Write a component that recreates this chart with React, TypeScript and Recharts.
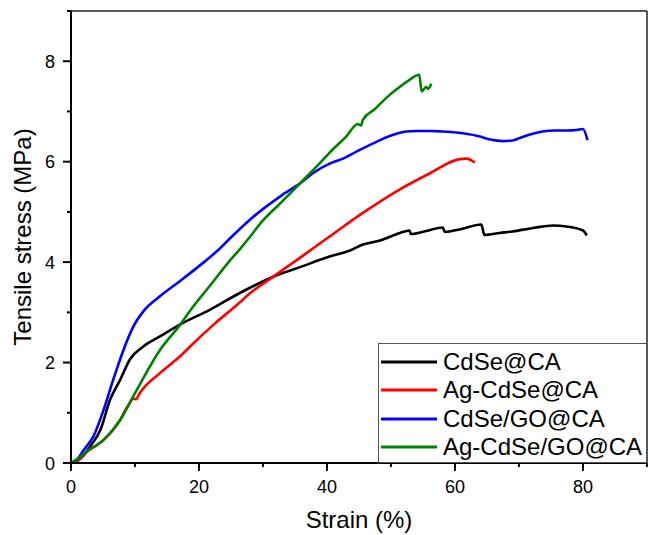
import React from 'react';
import { LineChart, Line, XAxis, YAxis, Legend, ReferenceLine, Label } from 'recharts';

type P = { x: number; y: number };
const pts = (a: number[][]): P[] => a.map(([x, y]) => ({ x, y }));

const cdseCA = pts([
  [0, 0], [0.7, 0.02], [2, 0.15], [3, 0.33], [4.6, 0.66], [6.1, 1.26], [7.7, 1.66], [9.2, 2.06],
  [11.3, 2.32], [13.9, 2.52], [17.5, 2.79], [21.7, 3.05], [26.3, 3.38], [27.5, 3.46], [31.6, 3.71],
  [35.8, 3.9], [40.4, 4.11], [43.6, 4.23], [45.6, 4.35], [48.3, 4.43], [51.4, 4.58], [52.9, 4.63],
  [53.1, 4.56], [55.5, 4.62], [58.1, 4.69], [58.4, 4.6], [61, 4.66], [64.1, 4.75], [64.6, 4.54],
  [67, 4.58], [69, 4.61], [72.2, 4.68], [75.3, 4.73], [77.4, 4.71], [80, 4.63], [80.6, 4.53],
]);

const agCdseCA = pts([
  [0, 0], [1, 0.05], [2.5, 0.23], [5.1, 0.46], [7.7, 0.86], [8.7, 1.1], [9.8, 1.28], [10.2, 1.27],
  [10.6, 1.36], [13.9, 1.79], [17, 2.12], [19.1, 2.38], [22.5, 2.78], [26.4, 3.2], [27.5, 3.33],
  [31.6, 3.71], [36.8, 4.18], [40.4, 4.51], [45.6, 4.98], [51, 5.42], [56.1, 5.77], [60.7, 6.05],
  [61.8, 6.06], [63.1, 5.98],
]);

const cdseGoCA = pts([
  [0, 0], [1, 0.08], [2, 0.26], [3.5, 0.53], [5.1, 1.06], [6.6, 1.66], [8.2, 2.25], [9.75, 2.72],
  [11.3, 3.02], [13.9, 3.32], [17, 3.62], [20.1, 3.93], [23, 4.24], [24.9, 4.48], [28, 4.85],
  [32.7, 5.31], [35.8, 5.57], [37.8, 5.77], [40.4, 5.96], [42.5, 6.06], [44.6, 6.2], [48.3, 6.43],
  [50, 6.52], [52.4, 6.6], [54, 6.61], [56.1, 6.61], [58, 6.6], [60.2, 6.58], [61.5, 6.56],
  [63.9, 6.5], [65.5, 6.44], [67.5, 6.41], [69, 6.42], [70.1, 6.47], [72, 6.55], [73.7, 6.6],
  [75.5, 6.62], [77.4, 6.62], [79, 6.63], [80, 6.65], [80.7, 6.43],
]);

const agCdseGoCA = pts([
  [0, 0], [1, 0.08], [2.5, 0.23], [5.1, 0.46], [7.7, 0.86], [10.3, 1.46], [13.9, 2.25],
  [17.05, 2.75], [19, 3.1], [21.2, 3.45], [22.2, 3.61], [24.5, 3.98], [26.4, 4.26], [27.5, 4.43],
  [30, 4.83], [32.7, 5.17], [35.8, 5.57], [39.4, 6.04], [40.4, 6.18], [43, 6.5], [44.8, 6.75],
  [45.3, 6.72], [45.6, 6.83], [47.5, 7.05], [49.8, 7.33], [51.5, 7.5], [52.9, 7.63], [54.4, 7.73],
  [54.8, 7.4], [55.5, 7.49], [55.8, 7.45], [56.3, 7.55],
]);

const seriesNames = ['CdSe@CA', 'Ag-CdSe@CA', 'CdSe/GO@CA', 'Ag-CdSe/GO@CA'];
const seriesColors = ['#000000', '#ff0000', '#0000ff', '#008000'];
const seriesData = [cdseCA, agCdseCA, cdseGoCA, agCdseGoCA];

const xTicks = [0, 10, 20, 30, 40, 50, 60, 70, 80, 90];
const yTicks = [0, 1, 2, 3, 4, 5, 6, 7, 8, 9];

const FONT = '"Liberation Sans", Arial, Helvetica, sans-serif';

const YTick = (props: any) => {
  const { x, y, payload } = props;
  const major = payload.value % 2 === 0;
  return (
    <g>
      <line x1={x} x2={x - (major ? 8 : 4)} y1={y} y2={y} stroke="#000" strokeWidth={2} />
      {major && payload.value < 9 && (
        <text x={x - 16} y={y} dy={6.5} textAnchor="end" fontSize={18} fill="#000" fontFamily={FONT}>
          {payload.value}
        </text>
      )}
    </g>
  );
};

const XTick = (props: any) => {
  const { x, y, payload } = props;
  const major = payload.value % 20 === 0;
  return (
    <g>
      <line x1={x} x2={x} y1={y} y2={y + (major ? 8 : 4)} stroke="#000" strokeWidth={2} />
      {major && (
        <text x={x} y={y + 30} textAnchor="middle" fontSize={18} fill="#000" fontFamily={FONT}>
          {payload.value}
        </text>
      )}
    </g>
  );
};

const LegendBox = () => (
  <div
    style={{
      width: 269,
      height: 120,
      boxSizing: 'border-box',
      border: '1px solid #555',
      background: '#fff',
      paddingTop: 4,
      fontFamily: FONT,
      fontSize: 24,
      color: '#000',
    }}
  >
    {seriesNames.map((n, i) => (
      <div key={n} style={{ height: 28.3, display: 'flex', alignItems: 'center' }}>
        <svg width={58} height={6} style={{ marginLeft: 2, display: 'block' }}>
          <line x1={0} x2={56} y1={3} y2={3} stroke={seriesColors[i]} strokeWidth={3} />
        </svg>
        <span style={{ marginLeft: 4, lineHeight: '28px', whiteSpace: 'nowrap' }}>{n}</span>
      </div>
    ))}
  </div>
);

export default function App() {
  return (
    <div style={{ position: 'absolute', left: 0, top: 0, width: 648, height: 535, background: '#fff' }}>
      <LineChart width={648} height={535} margin={{ top: 11, right: 1, bottom: 0, left: 0 }}>
        <XAxis
          type="number"
          dataKey="x"
          domain={[0, 90]}
          ticks={xTicks}
          interval={0}
          allowDataOverflow
          height={72}
          tickSize={0}
          tickMargin={0}
          tickLine={false}
          axisLine={{ stroke: '#000', strokeWidth: 2 }}
          tick={<XTick />}
        >
          <Label value="Strain (%)" position="center" dy={20} fontSize={24} fill="#000" fontFamily={FONT} />
        </XAxis>
        <YAxis
          type="number"
          dataKey="y"
          domain={[0, 9]}
          ticks={yTicks}
          interval={0}
          allowDataOverflow
          width={71}
          tickSize={0}
          tickMargin={0}
          tickLine={false}
          axisLine={{ stroke: '#000', strokeWidth: 2 }}
          tick={<YTick />}
        >
          <Label
            value="Tensile stress (MPa)"
            position="center"
            angle={-90}
            dx={-13}
            fontSize={24}
            fill="#000"
            fontFamily={FONT}
          />
        </YAxis>
        <ReferenceLine y={9} stroke="#222" strokeWidth={1.5} />
        <ReferenceLine x={90} stroke="#222" strokeWidth={1.5} />
        {seriesData.map((d, i) => (
          <Line
            key={seriesNames[i]}
            data={d}
            dataKey="y"
            name={seriesNames[i]}
            type="monotone"
            stroke={seriesColors[i]}
            strokeWidth={2.6}
            dot={false}
            activeDot={false}
            isAnimationActive={false}
          />
        ))}
        <Legend
          verticalAlign="middle"
          align="center"
          layout="horizontal"
          content={<LegendBox />}
          wrapperStyle={{ left: 378, top: 343, width: 269, height: 120 }}
        />
      </LineChart>
    </div>
  );
}
